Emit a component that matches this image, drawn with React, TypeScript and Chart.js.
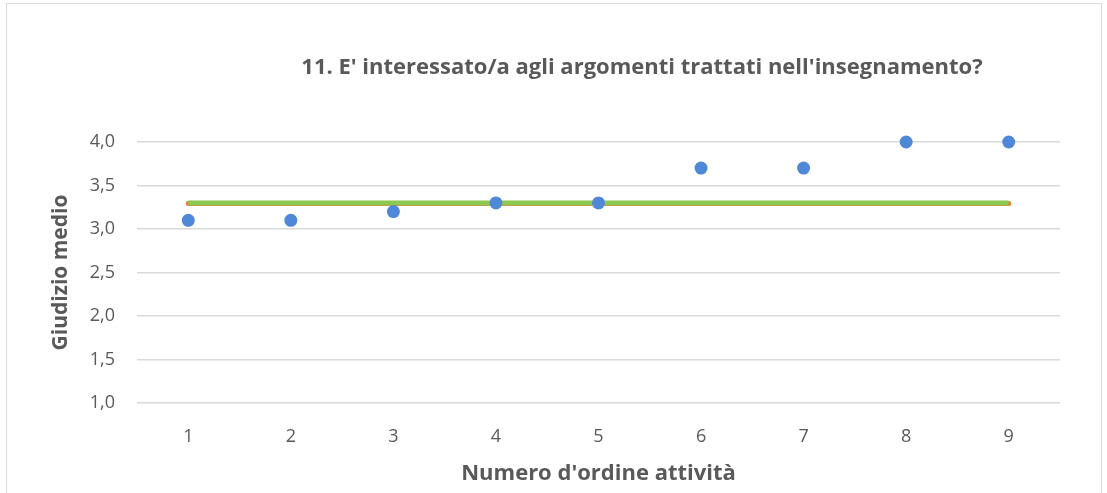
import React, { useEffect, useRef } from "react";
import { Chart, registerables } from "chart.js";

Chart.register(...registerables);

const activities = [1, 2, 3, 4, 5, 6, 7, 8, 9];
const scores = [3.1, 3.1, 3.2, 3.3, 3.3, 3.7, 3.7, 4.0, 4.0];
const referenceLineX = [1, 9];
const greenLineY = [3.3, 3.3];
const orangeLineY = [3.293, 3.293];
const yTicks = [1.0, 1.5, 2.0, 2.5, 3.0, 3.5, 4.0];

const titleText = "11. E' interessato/a agli argomenti trattati nell'insegnamento?";
const xTitle = "Numero d'ordine attività";
const yTitle = "Giudizio medio";

const FONT = "'Open Sans', 'Noto Sans', sans-serif";
const TEXT = "#595959";

export default function App() {
  const ref = useRef<HTMLCanvasElement | null>(null);

  useEffect(() => {
    document.body.style.margin = "0";
    const canvas = ref.current;
    if (!canvas) return;

    const chart = new Chart(canvas, {
      type: "scatter",
      data: {
        datasets: [
          {
            label: "orange",
            type: "line",
            data: referenceLineX.map((x, i) => ({ x, y: orangeLineY[i] })),
            borderColor: "#ED7D31",
            borderWidth: 5,
            pointRadius: 0,
            borderCapStyle: "round",
            clip: false,
            order: 3,
          } as any,
          {
            label: "green",
            type: "line",
            data: referenceLineX.map((x, i) => ({ x, y: greenLineY[i] })),
            borderColor: "#8DC850",
            borderWidth: 5,
            pointRadius: 0,
            borderCapStyle: "butt",
            clip: false,
            order: 2,
          } as any,
          {
            label: "scores",
            data: activities.map((x, i) => ({ x, y: scores[i] })),
            backgroundColor: "#4E88D6",
            borderColor: "#4E88D6",
            borderWidth: 0,
            pointRadius: 6.5,
            clip: false,
            order: 1,
          } as any,
        ],
      },
      options: {
        animation: false,
        responsive: false,
        maintainAspectRatio: false,
        layout: { padding: { top: 142, right: 47, left: 0, bottom: 0 } },
        plugins: {
          legend: { display: false },
          tooltip: { enabled: false },
          title: { display: false },
        },
        scales: {
          x: {
            type: "linear",
            min: 0.5,
            max: 9.5,
            afterBuildTicks: (scale: any) => {
              scale.ticks = activities.map((v) => ({ value: v }));
            },
            afterFit: (scale: any) => {
              scale.height = 90;
            },
            grid: { display: false },
            border: { display: false },
            ticks: {
              color: TEXT,
              font: { family: FONT, size: 18 },
              padding: 15,
              maxRotation: 0,
            },
            title: {
              display: true,
              text: xTitle,
              color: TEXT,
              font: { family: FONT, size: 22, weight: "bold" },
              padding: { top: 0, bottom: 6 },
            },
          },
          y: {
            type: "linear",
            min: 1,
            max: 4,
            afterBuildTicks: (scale: any) => {
              scale.ticks = yTicks.map((v) => ({ value: v }));
            },
            afterFit: (scale: any) => {
              scale.width = 137;
            },
            grid: { color: "#D9D9D9", lineWidth: 1.5, drawTicks: false },
            border: { display: false },
            ticks: {
              color: TEXT,
              font: { family: FONT, size: 18 },
              padding: 22,
              callback: (v: any) => Number(v).toFixed(1).replace(".", ","),
            },
            title: {
              display: true,
              text: yTitle,
              color: TEXT,
              font: { family: FONT, size: 21, weight: "bold" },
              padding: { top: 48, bottom: 0 },
            },
          },
        },
      },
    });
    return () => chart.destroy();
  }, []);

  return (
    <div style={{ position: "relative", width: 1107, height: 493, background: "#fff", overflow: "hidden" }}>
      <div
        style={{
          position: "absolute",
          left: 6,
          top: 3,
          width: 1096,
          height: 520,
          border: "1px solid #D9D9D9",
          boxSizing: "border-box",
        }}
      />
      <canvas ref={ref} width={1107} height={493} style={{ position: "absolute", left: 0, top: 0 }} />
      <div
        style={{
          position: "absolute",
          left: 642,
          top: 65,
          transform: "translate(-50%, -50%)",
          whiteSpace: "nowrap",
          fontFamily: FONT,
          fontWeight: "bold",
          fontSize: 22,
          color: TEXT,
        }}
      >
        {titleText}
      </div>
    </div>
  );
}
